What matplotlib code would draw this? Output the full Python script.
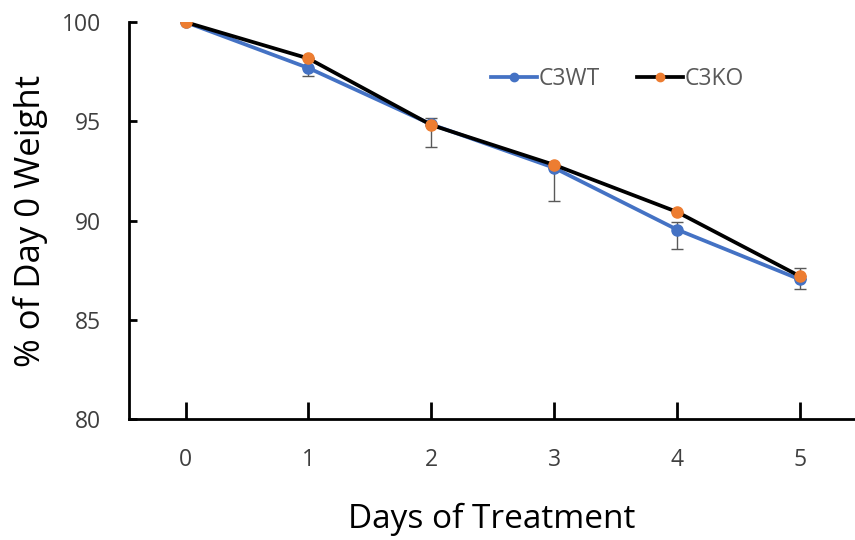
import matplotlib.pyplot as plt
import numpy as np

plt.rcParams['font.family'] = ['Open Sans', 'DejaVu Sans']

days = [0, 1, 2, 3, 4, 5]

# C3WT: mean weight (% of day 0) and error bars (lower, upper)
wt_mean = [100, 97.69, 94.85, 92.66, 89.55, 87.04]
wt_err_low = [0, 0.40, 1.15, 1.66, 1.00, 0.47]
wt_err_high = [0, 0, 0.30, 0, 0.38, 0]

# C3KO: mean weight (% of day 0) and upper error bars
ko_mean = [100, 98.17, 94.82, 92.81, 90.44, 87.20]
ko_err_low = [0, 0, 0, 0, 0, 0]
ko_err_high = [0, 0, 0, 0, 0, 0.42]

blue = "#4472C4"
orange = "#ED7D31"
grey = "#595959"
text_grey = "#3f3f3f"

fig = plt.figure(figsize=(8.55, 5.4), dpi=100)
ax = fig.add_axes([0.1509, 0.224, 0.8491, 0.735])

ax.errorbar(days, wt_mean, yerr=[wt_err_low, wt_err_high], fmt="none",
            ecolor=grey, elinewidth=1, capsize=4, capthick=1, zorder=1)
ax.errorbar(days, ko_mean, yerr=[ko_err_low, ko_err_high], fmt="none",
            ecolor=grey, elinewidth=1, capsize=4, capthick=1, zorder=1)

ax.plot(days, wt_mean, color=blue, lw=2.7, marker="o", markersize=8,
        markerfacecolor=blue, markeredgecolor=blue, label="C3WT", zorder=2)
ax.plot(days, ko_mean, color="black", lw=2.7, marker="o", markersize=8,
        markerfacecolor=orange, markeredgecolor=orange, label="C3KO", zorder=3)

ax.set_xlim(-0.46, 5.45)
ax.set_ylim(80, 100)
ax.set_xticks(days)
ax.set_yticks([80, 85, 90, 95, 100])

for side in ["top", "right"]:
    ax.spines[side].set_visible(False)
for side in ["left", "bottom"]:
    ax.spines[side].set_linewidth(2)
    ax.spines[side].set_color("black")

ax.tick_params(axis="y", direction="in", length=6, width=2, colors="black",
               labelcolor=text_grey, labelsize=16.5, pad=20)
ax.tick_params(axis="x", direction="in", length=12, width=2, colors="black",
               labelcolor=text_grey, labelsize=16.5, pad=21)

ax.set_xlabel("Days of Treatment", fontsize=24, labelpad=22)
ax.set_ylabel("% of Day 0 Weight", fontsize=25, labelpad=10)

ax.legend(loc="upper left", bbox_to_anchor=(0.47, 0.94), ncol=2, frameon=False,
          fontsize=16.5, labelcolor=grey, handlelength=2.0, handletextpad=0.1,
          columnspacing=1.6, markerscale=0.75)

fig.savefig("out.png", dpi=100)
